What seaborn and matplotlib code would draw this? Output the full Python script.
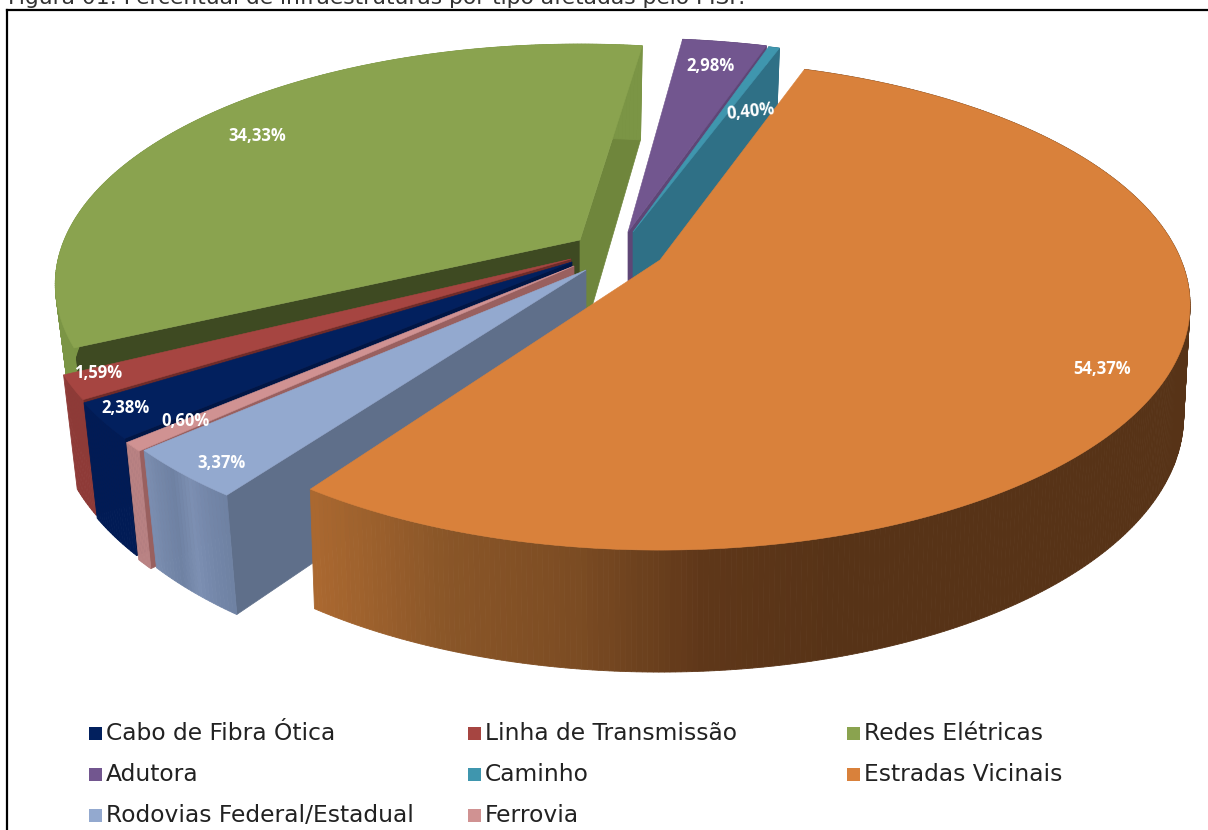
# -*- coding: utf-8 -*-
import numpy as np
import matplotlib
matplotlib.use('Agg')
import matplotlib.pyplot as plt
from matplotlib.patches import Rectangle
import seaborn as sns

sns.set_theme(style='white')

# dados do grafico
categorias = ['Cabo de Fibra Ótica', 'Linha de Transmissão', 'Redes Elétricas',
              'Adutora', 'Caminho', 'Estradas Vicinais',
              'Rodovias Federal/Estadual', 'Ferrovia']
valores = [2.38, 1.59, 34.33, 2.98, 0.40, 54.37, 3.37, 0.60]
titulo = 'Figura 01: Percentual de infraestruturas por tipo afetadas pelo PISF.'

# ordem das fatias no sentido horario, a partir de Estradas Vicinais
ordem_horaria = ['Estradas Vicinais', 'Rodovias Federal/Estadual', 'Ferrovia',
                 'Cabo de Fibra Ótica', 'Linha de Transmissão', 'Redes Elétricas',
                 'Adutora', 'Caminho']
# ordem de desenho: do fundo para a frente
ordem_desenho = ['Redes Elétricas', 'Adutora', 'Caminho', 'Linha de Transmissão',
                 'Cabo de Fibra Ótica', 'Ferrovia', 'Rodovias Federal/Estadual',
                 'Estradas Vicinais']

ANGULO_INICIAL = 19.0
RAIO_X, RAIO_Y, PERSP = 521.0, 236.7, -0.184

# vertice de cada fatia explodida, escala, rotacao e cores
estilo = {
    'Redes Elétricas': dict(apice=(580, 240), sx=0.99, sy=0.98, rot=1.3, k=0.972,
                            topo='#8AA34F', lado=['#7B9545'],
                            ini='#3E4A22', fim='#6F863C'),
    'Adutora': dict(apice=(628, 232), sx=1.03, sy=0.97, rot=0, k=0.975,
                    topo='#72568F', lado=['#5E4676'], ini=None, fim='#5E4676'),
    'Caminho': dict(apice=(633, 232), sx=1.01, sy=0.965, rot=0, k=0.975,
                    topo='#3F96AE', lado=['#2F7086'], ini=None, fim='#2F7086'),
    'Linha de Transmissão': dict(apice=(571, 259), sx=1, sy=1, rot=0, k=0.973,
                                 topo='#A64541', lado=['#8E3A37'],
                                 ini='#6E2B29', fim=None),
    'Cabo de Fibra Ótica': dict(apice=(572, 262), sx=1, sy=1, rot=0, k=0.973,
                                topo='#02205E', lado=['#011B55'],
                                ini='#011645', fim=None),
    'Ferrovia': dict(apice=(574, 266), sx=1, sy=1, rot=0, k=0.973,
                     topo='#D09292', lado=['#B98283'], ini='#99605F', fim=None),
    'Rodovias Federal/Estadual': dict(apice=(586, 270), sx=1, sy=1, rot=1.2, k=0.972,
                                      topo='#93A9CF', lado=['#7C8FB2', '#7487A9', '#6F82A3'],
                                      ini='#5F6F8A', fim=None),
    'Estradas Vicinais': dict(apice=(660, 260), sx=1, sy=1, rot=0, k=0.988,
                              topo='#D9813B', lado=None, ini=None, fim=None),
}

rotulos = {
    'Redes Elétricas': (257, 136, 0), 'Estradas Vicinais': (1102, 369, 0),
    'Adutora': (711, 66, 0), 'Caminho': (751, 112, 6),
    'Linha de Transmissão': (98, 373, 0), 'Cabo de Fibra Ótica': (126, 408, 0),
    'Ferrovia': (185, 421, 0), 'Rodovias Federal/Estadual': (222, 463, 0),
}

colunas_legenda = [89, 468, 847]
linhas_legenda = [733, 774, 815]


def projeta(theta, s):
    # circulo em perspectiva: theta em graus, horario a partir do topo
    t = np.radians(np.asarray(theta, dtype=float) + s['rot'])
    u, v = np.sin(t), -np.cos(t)
    den = 1 + PERSP * v
    x = s['apice'][0] + s['sx'] * RAIO_X * u / den
    y = s['apice'][1] + s['sy'] * RAIO_Y * v / den
    return x, y, v


def base(x, y, v, s):
    # ponto correspondente na face de baixo do disco
    xb = s['apice'][0] + s['k'] * (x - s['apice'][0])
    return xb, y + 108 + 14 * v


def cor_parede_estradas(x):
    return grad_estradas[int(np.clip((x - 310) / (830 - 310), 0, 1) * (len(grad_estradas) - 1))]


grad_estradas = sns.blend_palette(['#AA6830', '#8A5628', '#7C4C23', '#5F3719', '#573317'], 80)

fig = plt.figure(figsize=(12.08, 8.30), dpi=100)
ax = fig.add_axes([0, 0, 1, 1])
ax.set_xlim(0, 1208)
ax.set_ylim(830, 0)
ax.axis('off')

# limites angulares de cada fatia
limites = {}
ang = ANGULO_INICIAL
for nome in ordem_horaria:
    delta = valores[categorias.index(nome)] * 3.6
    limites[nome] = (ang, ang + delta)
    ang += delta

for nome in ordem_desenho:
    s = estilo[nome]
    a0, a1 = limites[nome]
    thetas = np.linspace(a0, a1, max(int((a1 - a0) * 2), 8))
    x, y, v = projeta(thetas, s)
    xb, yb = base(x, y, v, s)
    ax_c, ay_c = s['apice']
    ax_b, ay_b = base(ax_c, ay_c, 0, s)

    # paredes radiais
    if s['ini'] is not None:
        ax.fill([ax_c, x[0], xb[0], ax_b], [ay_c, y[0], yb[0], ay_b], color=s['ini'], lw=0.5)
    if s['fim'] is not None:
        ax.fill([ax_c, x[-1], xb[-1], ax_b], [ay_c, y[-1], yb[-1], ay_b], color=s['fim'], lw=0.5)

    # parede externa
    if s['lado'] is not None:
        grad = sns.blend_palette(s['lado'] * 2, len(thetas))
    for i in range(len(thetas) - 1):
        if s['lado'] is None:
            cor = cor_parede_estradas((x[i] + x[i + 1]) / 2)
        else:
            cor = grad[len(thetas) - 1 - i]
        ax.fill([x[i], x[i + 1], xb[i + 1], xb[i]], [y[i], y[i + 1], yb[i + 1], yb[i]],
                color=cor, lw=0.6)

    # face de cima
    ax.fill(np.r_[ax_c, x], np.r_[ay_c, y], color=s['topo'], lw=0.4)

for nome, (px, py, rot) in rotulos.items():
    texto = f"{valores[categorias.index(nome)]:.2f}%".replace('.', ',')
    ax.text(px, py, texto, color='white', fontsize=12, fontweight='bold', family='Open Sans',
            ha='center', va='center', rotation=rot)

# legenda em tres colunas
for i, nome in enumerate(categorias):
    cx = colunas_legenda[i % 3]
    cy = linhas_legenda[i // 3]
    ax.add_patch(Rectangle((cx, cy - 6.5), 13, 13, color=estilo[nome]['topo'], lw=0))
    ax.text(cx + 17, cy, nome, fontsize=16.85, color='#222222', family='DejaVu Sans',
            ha='left', va='center')

# moldura e titulo cortado no topo, como na figura original
ax.plot([7, 7], [830, 10], color='black', lw=1.6, solid_capstyle='projecting')
ax.plot([7, 1208], [10, 10], color='black', lw=1.6, solid_capstyle='projecting')
ax.text(8, 4, titulo, fontsize=15.7, color='#333333', family='DejaVu Sans', ha='left',
        va='baseline', clip_on=False)

fig.savefig('out.png', dpi=100)
plt.close(fig)
